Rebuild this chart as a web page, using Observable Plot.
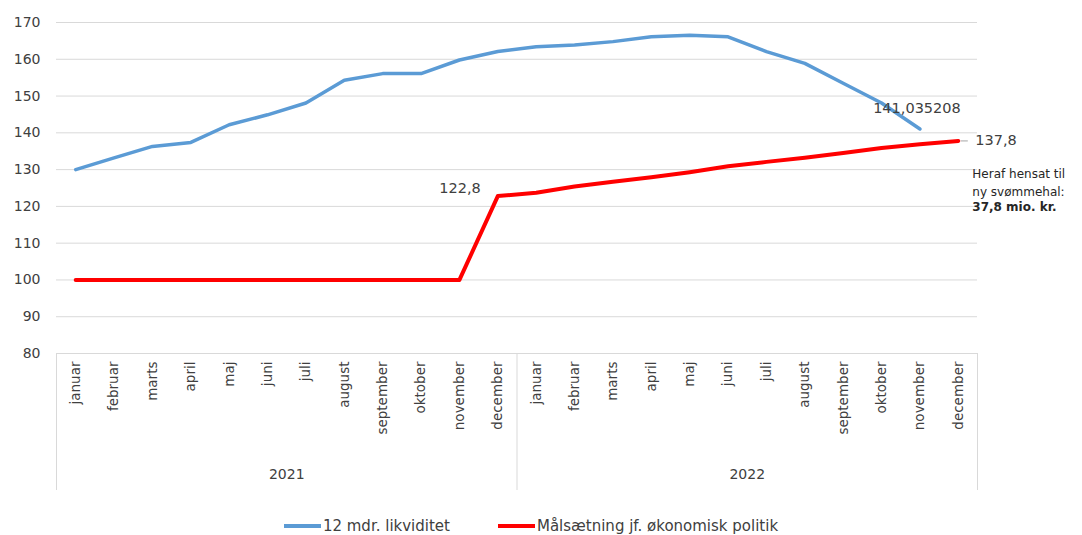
<!DOCTYPE html>
<html>
<head>
<meta charset="utf-8">
<script src="https://cdn.jsdelivr.net/npm/d3@7"></script>
<script src="https://cdn.jsdelivr.net/npm/@observablehq/plot@0.6"></script>
<style>
  body { margin: 0; background: #fff; font-family: "DejaVu Sans", sans-serif; }
  #chart svg { display: block; }
  #legend { height: 16px; margin-top: 2px; display: flex; justify-content: center; gap: 48px; font-size: 15px; color: #404040; line-height: 16px; padding-right: 20px; }
  #legend span.item { display: flex; align-items: center; }
  #legend span.sw { display: inline-block; width: 37px; height: 4px; margin-right: 2px; }
</style>
</head>
<body>
<div id="chart"></div>
<div id="legend"></div>
<script>
// ---- data ----
const years = ["2021", "2022"];
const months = ["januar", "februar", "marts", "april", "maj", "juni", "juli", "august", "september", "oktober", "november", "december"];
const likviditet = [130.0, 133.2, 136.3, 137.4, 142.2, 144.9, 148.1, 154.3, 156.1, 156.1, 159.8, 162.1,
                    163.4, 163.9, 164.8, 166.1, 166.5, 166.1, 162.1, 158.9, 153.5, 148.1, 141.035208, null];
const maalsaetning = [100, 100, 100, 100, 100, 100, 100, 100, 100, 100, 100, 122.8,
                      123.7, 125.4, 126.7, 127.9, 129.3, 130.9, 132.1, 133.2, 134.5, 135.9, 136.9, 137.8];
const yTicks = [80, 90, 100, 110, 120, 130, 140, 150, 160, 170];
const seriesNames = ["12 mdr. likviditet", "Målsætning jf. økonomisk politik"];
const seriesColors = ["#5b9bd5", "#ff0000"];
const noteLines = ["Heraf hensat til", "ny svømmehal:"];
const noteBold = "37,8 mio. kr.";

// ---- build table ----
const rows = likviditet.map((v, i) => ({
  i, month: months[i % 12], year: years[Math.floor(i / 12)], likv: v, maal: maalsaetning[i]
}));
const n = rows.length;
const boundaries = d3.range(0, n + 1, 12).map(k => k - 0.5);
const yearCenters = years.map((y, k) => ({ year: y, x: k * 12 + 5.5 }));

const W = 1082, H = 516, mL = 56, mR = 105, mT = 22, mB = 163;
const plotH = H - mT - mB;
const txt = "#404040";

const lastL = rows.filter(d => d.likv != null).at(-1);
const jumpIdx = maalsaetning.findIndex((v, i) => i > 0 && v !== maalsaetning[i - 1]);
const lastM = rows.at(-1);

const fmt = v => String(v).replace(".", ",");

const chart = Plot.plot({
  width: W, height: H,
  marginLeft: mL, marginRight: mR, marginTop: mT, marginBottom: mB,
  style: { fontFamily: "DejaVu Sans, sans-serif", fontSize: "13px", color: txt, background: "#fff" },
  x: { type: "linear", domain: [-0.5, n - 0.5] },
  y: { domain: [80, 170] },
  marks: [
    Plot.gridY(yTicks, { stroke: "#d9d9d9", strokeOpacity: 1, strokeWidth: 1 }),
    Plot.ruleX(boundaries, { stroke: "#d9d9d9", strokeWidth: 1, insetTop: plotH, insetBottom: -137 }),
    Plot.axisY({ ticks: yTicks, tickSize: 0, tickPadding: 16, label: null, fontSize: 14, fill: txt }),
    Plot.axisX({ ticks: d3.range(n), tickFormat: i => months[i % 12], tickRotate: -90, tickSize: 0, tickPadding: 8, label: null, fontSize: 13.5, fill: txt }),
    Plot.text(yearCenters, { x: "x", text: "year", frameAnchor: "bottom", dy: 125, fontSize: 14, fill: txt }),
    Plot.line(rows, { x: "i", y: "maal", stroke: seriesColors[1], strokeWidth: 4 }),
    Plot.line(rows.filter(d => d.likv != null), { x: "i", y: "likv", stroke: seriesColors[0], strokeWidth: 3.5 }),
    Plot.text([rows[jumpIdx]], { x: "i", y: "maal", text: d => fmt(d.maal), textAnchor: "end", dx: -17, dy: -8, fontSize: 14.5, fill: txt }),
    Plot.text([lastL], { x: "i", y: "likv", text: d => fmt(d.likv), textAnchor: "middle", dx: -3, dy: -21, fontSize: 14.5, fill: txt }),
    Plot.ruleY([lastM], { x1: "i", x2: "i", y: "maal", stroke: "#a6a6a6", insetLeft: 3, insetRight: -10 }),
    Plot.text([lastM], { x: "i", y: "maal", text: d => fmt(d.maal), textAnchor: "start", dx: 17, dy: -1, fontSize: 14.5, fill: txt }),
    Plot.text([lastM], { x: "i", y: "maal", text: () => noteLines.join("\n"), textAnchor: "start", lineAnchor: "top", lineHeight: 1.5, dx: 14, dy: 24, fontSize: 12, fill: "#262626" }),
    Plot.text([lastM], { x: "i", y: "maal", text: () => noteBold, textAnchor: "start", lineAnchor: "top", dx: 14, dy: 62, fontSize: 12, fontWeight: "bold", fill: "#262626" })
  ]
});
document.getElementById("chart").append(chart);

const legend = document.getElementById("legend");
seriesNames.forEach((name, k) => {
  const item = document.createElement("span");
  item.className = "item";
  const sw = document.createElement("span");
  sw.className = "sw";
  sw.style.background = seriesColors[k];
  item.append(sw, document.createTextNode(name));
  legend.append(item);
});
</script>
</body>
</html>
